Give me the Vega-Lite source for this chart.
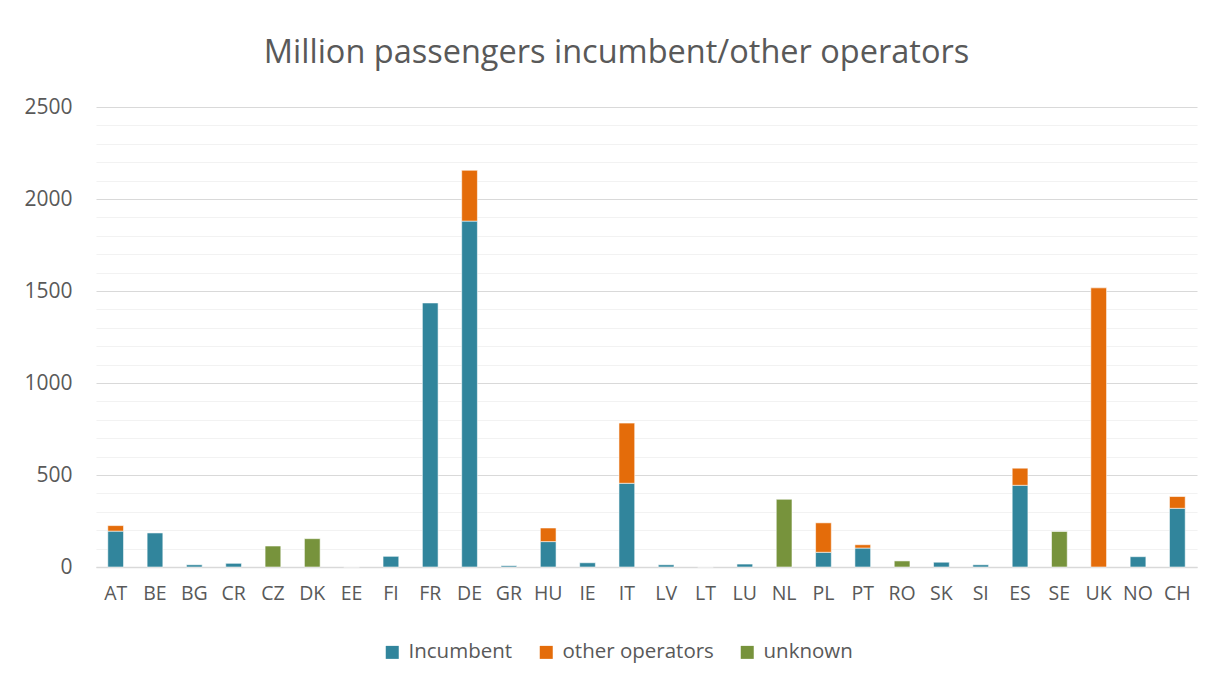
{
  "$schema": "https://vega.github.io/schema/vega-lite/v6.json",
  "width": 1101,
  "height": 460,
  "autosize": {"type": "none"},
  "padding": {"left": 96, "top": 107, "right": 28, "bottom": 117},
  "background": "white",
  "title": {
    "text": "Million passengers incumbent/other operators",
    "font": "Open Sans",
    "fontSize": 32.5,
    "fontWeight": "normal",
    "color": "#595959",
    "anchor": "middle",
    "frame": "group",
    "dx": -30,
    "offset": 27
  },
  "config": {
    "view": {"stroke": null},
    "font": "Open Sans"
  },
  "data": {
    "values": [
      {"country": "AT", "type": "Incumbent", "value": 195},
      {"country": "AT", "type": "other operators", "value": 30},
      {"country": "BE", "type": "Incumbent", "value": 185},
      {"country": "BG", "type": "Incumbent", "value": 12},
      {"country": "CR", "type": "Incumbent", "value": 20},
      {"country": "CZ", "type": "unknown", "value": 114},
      {"country": "DK", "type": "unknown", "value": 154},
      {"country": "EE", "type": "Incumbent", "value": 0},
      {"country": "FI", "type": "Incumbent", "value": 58},
      {"country": "FR", "type": "Incumbent", "value": 1435},
      {"country": "DE", "type": "Incumbent", "value": 1880},
      {"country": "DE", "type": "other operators", "value": 276},
      {"country": "GR", "type": "Incumbent", "value": 7},
      {"country": "HU", "type": "Incumbent", "value": 138},
      {"country": "HU", "type": "other operators", "value": 74},
      {"country": "IE", "type": "Incumbent", "value": 23},
      {"country": "IT", "type": "Incumbent", "value": 455},
      {"country": "IT", "type": "other operators", "value": 327},
      {"country": "LV", "type": "Incumbent", "value": 12},
      {"country": "LT", "type": "Incumbent", "value": 0},
      {"country": "LU", "type": "Incumbent", "value": 16},
      {"country": "NL", "type": "unknown", "value": 368},
      {"country": "PL", "type": "Incumbent", "value": 80},
      {"country": "PL", "type": "other operators", "value": 160},
      {"country": "PT", "type": "Incumbent", "value": 103},
      {"country": "PT", "type": "other operators", "value": 18},
      {"country": "RO", "type": "unknown", "value": 33},
      {"country": "SK", "type": "Incumbent", "value": 26},
      {"country": "SI", "type": "Incumbent", "value": 12},
      {"country": "ES", "type": "Incumbent", "value": 444},
      {"country": "ES", "type": "other operators", "value": 93},
      {"country": "SE", "type": "unknown", "value": 193},
      {"country": "UK", "type": "other operators", "value": 1517},
      {"country": "NO", "type": "Incumbent", "value": 56},
      {"country": "CH", "type": "Incumbent", "value": 319},
      {"country": "CH", "type": "other operators", "value": 64}
    ]
  },
  "mark": {"type": "bar", "stroke": "white", "strokeWidth": 0.8, "strokeOpacity": 0.7},
  "encoding": {
    "x": {
      "field": "country",
      "type": "nominal",
      "sort": null,
      "scale": {"paddingInner": 0.6, "paddingOuter": 0.3},
      "axis": {
        "title": null,
        "labelAngle": 0,
        "labelFont": "Open Sans",
        "labelFontSize": 19.5,
        "labelColor": "#595959",
        "labelPadding": 17,
        "ticks": false,
        "domainColor": "#D9D9D9",
        "domainWidth": 1.5,
        "grid": false
      }
    },
    "y": {
      "field": "value",
      "type": "quantitative",
      "stack": "zero",
      "scale": {"domain": [0, 2500], "nice": false},
      "axis": {
        "title": null,
        "values": [0, 100, 200, 300, 400, 500, 600, 700, 800, 900, 1000, 1100, 1200, 1300, 1400, 1500, 1600, 1700, 1800, 1900, 2000, 2100, 2200, 2300, 2400, 2500],
        "labelExpr": "datum.value % 500 === 0 ? datum.label : ''",
        "format": "d",
        "labelFont": "Open Sans",
        "labelFontSize": 21,
        "labelColor": "#595959",
        "labelPadding": 24,
        "ticks": false,
        "domain": false,
        "grid": true,
        "gridColor": {"condition": {"test": "datum.value % 500 === 0", "value": "#D9D9D9"}, "value": "#F2F2F2"},
        "gridWidth": 1.2
      }
    },
    "order": {"field": "type", "sort": "ascending"},
    "color": {
      "field": "type",
      "type": "nominal",
      "scale": {"domain": ["Incumbent", "other operators", "unknown"], "range": ["#31859C", "#E46C0A", "#77933C"]},
      "legend": {
        "title": null,
        "orient": "none",
        "direction": "horizontal",
        "legendX": 286,
        "legendY": 535,
        "symbolType": "square",
        "symbolSize": 169,
        "symbolStrokeWidth": 0,
        "labelFont": "Open Sans",
        "labelFontSize": 20.5,
        "labelColor": "#595959",
        "labelOffset": 6,
        "columnPadding": 23
      }
    }
  }
}
